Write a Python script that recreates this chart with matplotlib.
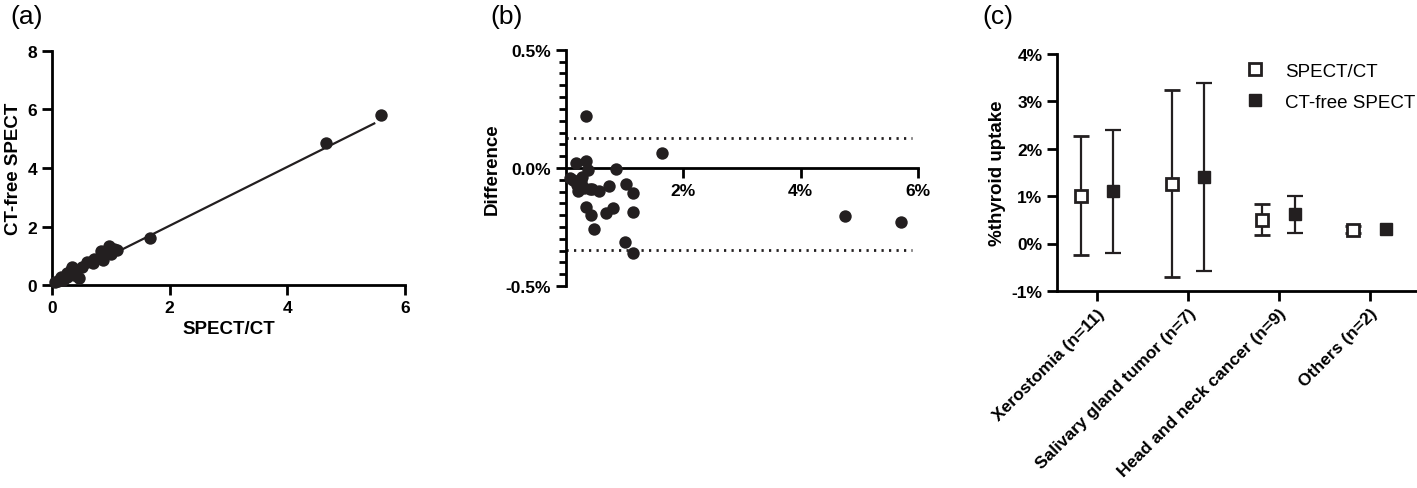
import matplotlib
matplotlib.use('Agg')
import matplotlib.pyplot as plt
from matplotlib.lines import Line2D
from matplotlib.ticker import FuncFormatter, MultipleLocator
import numpy as np

plt.rcParams['font.family'] = ['Liberation Sans', 'DejaVu Sans']
plt.rcParams['axes.linewidth'] = 2.0

# (a) SPECT/CT vs CT-free SPECT (% thyroid uptake per patient)
spect_ct = [0.46, 1.67, 0.18, 0.37, 0.38, 0.86, 0.05, 0.25, 0.14, 0.16, 0.26, 0.36, 0.51, 0.69, 1.00,
            1.10, 0.26, 0.32, 0.59, 0.72, 1.06, 0.34, 0.84, 0.97, 4.66, 5.60, 0.22, 0.41, 0.10]
ct_free = [0.24, 1.61, 0.16, 0.34, 0.38, 0.86, 0.09, 0.29, 0.22, 0.26, 0.34, 0.46, 0.61, 0.77, 1.06,
           1.20, 0.42, 0.52, 0.78, 0.89, 1.24, 0.60, 1.16, 1.33, 4.86, 5.82, 0.28, 0.50, 0.15]
fit_x = [0.0, 5.48]
fit_y = [0.02, 5.52]

# (b) Bland-Altman: mean vs difference (%)
ba_mean = [0.35, 1.64, 0.17, 0.35, 0.38, 0.86, 0.07, 0.27, 0.18, 0.21, 0.30, 0.41, 0.56, 0.73, 1.03,
           1.15, 0.34, 0.42, 0.68, 0.80, 1.15, 0.47, 1.00, 1.15, 4.76, 5.71, 0.25, 0.45, 0.12]
ba_diff = [0.222, 0.063, 0.023, 0.030, -0.009, -0.006, -0.044, -0.040, -0.073, -0.097, -0.087, -0.091,
           -0.097, -0.075, -0.066, -0.104, -0.165, -0.200, -0.190, -0.170, -0.187, -0.258, -0.315,
           -0.362, -0.204, -0.229, -0.060, -0.090, -0.050]
loa_upper = 0.128
loa_lower = -0.346

# (c) group means and SD (nan = bar hidden behind marker)
groups = ['Xerostomia (n=11)', 'Salivary gland tumor (n=7)', 'Head and neck cancer (n=9)', 'Others (n=2)']
spect_mean = [1.01, 1.26, 0.50, 0.29]
spect_sd = [1.25, 1.97, 0.33, 0.07]
free_mean = [1.10, 1.40, 0.62, 0.31]
free_sd = [1.30, 1.99, 0.39, np.nan]

label_font = dict(fontsize=13.5, fontweight='bold')

fig = plt.figure(figsize=(14.17, 4.89), dpi=100)


def style(ax):
    ax.spines['top'].set_visible(False)
    ax.spines['right'].set_visible(False)
    ax.tick_params(which='major', length=7, width=2, labelsize=12.5)
    ax.tick_params(which='minor', length=5, width=2)
    for lab in ax.get_xticklabels() + ax.get_yticklabels():
        lab.set_fontweight('bold')


# ---- (a)
ax1 = fig.add_axes([0.0367, 0.415, 0.249, 0.479])
ax1.plot(fit_x, fit_y, color='#231f20', lw=1.6, zorder=3)
ax1.scatter(spect_ct, ct_free, s=80, color='#231f20', clip_on=False, zorder=4, linewidths=0)
ax1.set_xlim(0, 6)
ax1.set_ylim(0, 8)
ax1.set_xticks([0, 2, 4, 6])
ax1.set_yticks([0, 2, 4, 6, 8])
ax1.set_xlabel('SPECT/CT', labelpad=4, **label_font)
ax1.set_ylabel('CT-free SPECT', labelpad=4, **label_font)
style(ax1)

# ---- (b)
ax2 = fig.add_axes([0.3994, 0.413, 0.2484, 0.483])
ax2.scatter(ba_mean, ba_diff, s=80, color='#231f20', clip_on=False, zorder=4, linewidths=0)
ax2.hlines([loa_upper, loa_lower], 0, 5.9, colors='#231f20', lw=2, linestyles=(0, (0.8, 1.9)))
ax2.set_xlim(0, 6)
ax2.set_ylim(-0.5, 0.5)
ax2.spines['bottom'].set_position(('data', 0))
ax2.set_xticks([2, 4, 6])
ax2.set_yticks([-0.5, 0, 0.5])
ax2.yaxis.set_minor_locator(MultipleLocator(0.05))
ax2.xaxis.set_major_formatter(FuncFormatter(lambda v, p: '%d%%' % v))
ax2.yaxis.set_major_formatter(FuncFormatter(lambda v, p: '%.1f%%' % v))
ax2.set_ylabel('Difference', labelpad=4, **label_font)
style(ax2)

# ---- (c)
ax3 = fig.add_axes([0.746, 0.403, 0.254, 0.485])
xpos = np.arange(len(groups))
ax3.errorbar(xpos - 0.18, spect_mean, yerr=spect_sd, fmt='s', ms=9, mfc='white', mec='#231f20',
             mew=2, ecolor='#231f20', elinewidth=1.6, capsize=6, capthick=1.6, zorder=3)
ax3.errorbar(xpos + 0.18, free_mean, yerr=free_sd, fmt='s', ms=9, mfc='#231f20', mec='#231f20',
             ecolor='#231f20', elinewidth=1.6, capsize=6, capthick=1.6, zorder=3)
ax3.set_xlim(-0.44, 3.52)
ax3.set_ylim(-1, 4)
ax3.set_xticks(xpos)
ax3.set_xticklabels(groups, rotation=45, ha='right', rotation_mode='anchor')
ax3.set_yticks([-1, 0, 1, 2, 3, 4])
ax3.yaxis.set_major_formatter(FuncFormatter(lambda v, p: '%d%%' % v))
ax3.set_ylabel('%thyroid uptake', labelpad=4, **label_font)
style(ax3)

handles = [Line2D([], [], ls='none', marker='s', ms=9, mfc='white', mec='#231f20', mew=2),
           Line2D([], [], ls='none', marker='s', ms=9, mfc='#231f20', mec='#231f20')]
ax3.legend(handles, ['SPECT/CT', 'CT-free SPECT'], loc='upper left', bbox_to_anchor=(0.879, 0.87),
           bbox_transform=fig.transFigure, frameon=False, fontsize=13.5, handlelength=1.0,
           handletextpad=1.1, borderpad=0, borderaxespad=0, labelspacing=0.75)

fig.text(0.007, 0.99, '(a)', fontsize=19, va='top')
fig.text(0.346, 0.99, '(b)', fontsize=19, va='top')
fig.text(0.693, 0.99, '(c)', fontsize=19, va='top')

fig.savefig('out.png', dpi=100)
